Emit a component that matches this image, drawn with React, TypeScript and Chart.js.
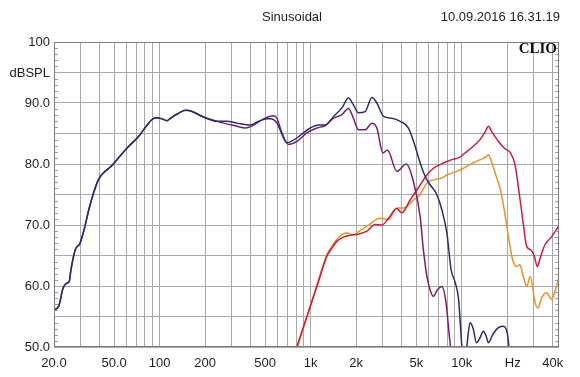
import { useEffect, useRef } from 'react';
import { Chart, registerables } from 'chart.js';

Chart.register(...registerables);

// Shared low-frequency part of the woofer curves (navy + purple)
const bassHz = [20, 21.5, 23, 24.4, 25.2, 25.9, 27.7, 29.6, 31.6, 34, 36.5, 39.3, 42.3, 45.6, 49, 54.2, 62.5, 72.5, 82.7, 89, 95, 103.7, 111.8, 118, 130.7, 148.7, 161, 195];
const bassDb = [56.1, 56.7, 59.7, 60.5, 60.7, 62.7, 66.0, 66.9, 69.2, 72.5, 75.2, 77.4, 78.5, 79.2, 79.9, 81.2, 82.9, 84.5, 86.4, 87.3, 87.6, 87.4, 87.1, 87.5, 88.2, 88.8, 88.7, 87.7];

const navyHz = [239, 279, 325, 398, 452, 513, 540, 598, 661, 697, 769, 896, 993, 1127, 1248, 1417, 1609, 1779, 1918, 2071, 2295, 2541, 2741, 3034, 3446, 3909, 4436, 4912, 5300, 5719, 6166, 6765, 7382, 7964, 8498, 9036, 9506, 10000, 10400, 10900, 11350, 11900, 12500, 13200, 13900, 14500, 15000, 16000, 17300, 18600, 20000, 21000];
const navyDb = [87.0, 87.0, 86.7, 86.4, 87.0, 87.4, 87.4, 86.7, 84.3, 83.5, 83.9, 85.1, 85.9, 86.4, 86.4, 87.8, 89.2, 90.8, 89.7, 88.4, 88.6, 90.9, 90.0, 87.8, 87.5, 87.0, 85.9, 82.9, 80.2, 78.0, 76.6, 75.2, 72.5, 68.7, 62.7, 60.6, 58.0, 50.3, 46, 51, 54.0, 53.0, 50.7, 51.5, 52.6, 51.8, 50.7, 52, 53.1, 53.4, 52.3, 47];

const purpleHz = [265, 325, 369, 408, 488, 568, 598, 645, 713, 811, 944, 1099, 1250, 1417, 1609, 1779, 1918, 2071, 2295, 2541, 2741, 3005, 3222, 3716, 4284, 4790, 5300, 5566, 5874, 6166, 6490, 6900, 7382, 7870, 8280, 8700];
const purpleDb = [86.7, 86.2, 85.9, 86.2, 87.4, 87.9, 87.5, 85.1, 83.2, 83.7, 85.1, 85.9, 86.3, 87.5, 88.1, 89.1, 87.5, 85.6, 85.6, 86.7, 85.9, 81.8, 82.3, 78.8, 80.0, 77.1, 71.4, 66.0, 61.6, 59.4, 58.3, 59.4, 59.9, 57.2, 51.7, 47];

const redHz = [770, 811, 944, 1099, 1280, 1381, 1500, 1609, 1825, 2071, 2355, 2671, 2959, 3274, 3716, 4011, 4551, 5166, 5874, 6490, 7190, 7964, 8800, 9506, 10500, 11900, 13200, 14300, 15000, 15800, 17500, 19300, 20900, 22500, 24000, 25500, 26900, 28700, 30200, 31600, 33300, 35600, 39400, 44200];
const redDb = [48.3, 50.1, 55.0, 59.9, 64.9, 66.2, 67.4, 67.9, 68.3, 68.5, 69.0, 70.1, 70.0, 71.1, 72.7, 72.0, 74.1, 76.1, 78.2, 79.3, 79.9, 80.4, 80.8, 81.0, 81.8, 82.9, 84.0, 85.3, 86.2, 85.3, 83.7, 82.5, 81.9, 79.9, 75.2, 70.3, 66.5, 65.9, 64.9, 63.2, 64.9, 66.8, 68.1, 70.0];

const orangeHz = [780, 820, 950, 1100, 1290, 1381, 1530, 1736, 1918, 2100, 2355, 2884, 3274, 3716, 4113, 4790, 5300, 5874, 6490, 7382, 7964, 8602, 9270, 10260, 11900, 13500, 14600, 15000, 15800, 16900, 18000, 19100, 20500, 21700, 23100, 24200, 25500, 26900, 28400, 30600, 32000, 33700, 36400, 39400, 41300, 44200];
const orangeDb = [48.3, 50.1, 55.2, 60.2, 65.3, 66.5, 68.0, 68.7, 68.4, 69.0, 69.8, 71.1, 70.9, 72.8, 72.8, 74.1, 75.0, 76.9, 77.4, 77.7, 78.2, 78.5, 78.8, 79.3, 80.2, 80.8, 81.2, 81.5, 80.2, 78.0, 75.8, 72.5, 67.6, 64.3, 63.2, 63.5, 61.6, 59.9, 61.6, 57.2, 56.4, 58.0, 58.9, 57.8, 59.1, 61.6];

const xGridValues = [20, 30, 40, 50, 60, 70, 80, 90, 100, 200, 300, 400, 500, 600, 700, 800, 900, 1000, 2000, 3000, 4000, 5000, 6000, 7000, 8000, 9000, 10000, 20000, 30000, 40000];
const xLabelValues = [20, 50, 100, 200, 500, 1000, 2000, 5000, 10000, 20000, 40000];
const xLabelTexts = ['20.0', '50.0', '100', '200', '500', '1k', '2k', '5k', '10k', '   Hz', '40k'];
const yLabelValues = [50, 60, 70, 80, 90, 100];
const yLabelTexts = ['50.0', '60.0', '70.0', '80.0', '90.0', '100'];

const titleText = 'Sinusoidal';
const dateText = '10.09.2016 16.31.19';
const unitText = 'dBSPL';
const brandText = 'CLIO';

const zip = (hz: number[], db: number[]) => hz.map((x, i) => ({ x, y: db[i] }));

const SANS = '"Liberation Sans", Arial, sans-serif';

export default function App() {
  const ref = useRef<HTMLCanvasElement>(null);

  useEffect(() => {
    if (!ref.current) return;
    const frame = {
      id: 'frame',
      afterDraw(chart: any) {
        const { ctx, chartArea: a, scales } = chart;
        ctx.save();
        ctx.lineWidth = 1;
        ctx.strokeStyle = '#9c9c9c';
        ctx.beginPath();
        for (let v = 51; v < 100; v++) {
          if (v % 5 === 0) continue;
          const y = Math.round(scales.y.getPixelForValue(v)) + 0.5;
          ctx.moveTo(a.left, y);
          ctx.lineTo(a.left + 4, y);
          ctx.moveTo(a.right - 4, y);
          ctx.lineTo(a.right, y);
        }
        ctx.stroke();
        ctx.strokeStyle = '#7c7c7c';
        ctx.strokeRect(a.left + 0.5, a.top + 0.5, a.right - a.left - 1, a.bottom - a.top - 1);

        ctx.fillStyle = '#1e1e1e';
        ctx.font = `13px ${SANS}`;
        ctx.textBaseline = 'middle';
        ctx.textAlign = 'center';
        ctx.fillText(titleText, 292, 17);
        ctx.textAlign = 'right';
        ctx.fillText(dateText, 560, 17);
        ctx.fillText(unitText, 50, 73);
        ctx.font = 'bold 15px "Liberation Serif", "Times New Roman", serif';
        ctx.fillStyle = '#111';
        ctx.fillText(brandText, a.right - 2, a.top + 7);
        ctx.restore();
      },
    };

    const ds = (label: string, data: any[], color: string) => ({
      label,
      data,
      borderColor: color,
      backgroundColor: color,
      borderWidth: 1.5,
      pointRadius: 0,
      fill: false,
      cubicInterpolationMode: 'monotone' as const,
    });

    const chart = new Chart(ref.current, {
      type: 'line',
      data: {
        datasets: [
          ds('woofer', zip([...bassHz, ...navyHz], [...bassDb, ...navyDb]), '#2b2e6e'),
          ds('woofer 2', zip([...bassHz, ...purpleHz], [...bassDb, ...purpleDb]), '#7a1d6c'),
          ds('tweeter', zip(redHz, redDb), '#c81e3c'),
          ds('tweeter 2', zip(orangeHz, orangeDb), '#e8922c'),
        ],
      },
      options: {
        responsive: false,
        animation: false,
        layout: { padding: { left: 0, right: 21, top: 42, bottom: 0 } },
        plugins: { legend: { display: false }, tooltip: { enabled: false }, title: { display: false } },
        scales: {
          x: {
            type: 'logarithmic',
            min: 20,
            max: 44000,
            afterBuildTicks: (s: any) => {
              s.ticks = xGridValues.map((v) => ({ value: v }));
            },
            afterFit: (s: any) => {
              s.height = 30;
            },
            grid: { color: '#a9a9a9', lineWidth: 1, drawTicks: false },
            border: { display: false },
            ticks: {
              autoSkip: false,
              maxRotation: 0,
              minRotation: 0,
              padding: 9,
              color: '#1e1e1e',
              font: { family: SANS, size: 13 },
              callback: (v: any) => {
                const i = xLabelValues.indexOf(Number(v));
                return i >= 0 ? xLabelTexts[i] : '';
              },
            },
          },
          y: {
            type: 'linear',
            min: 50,
            max: 100,
            afterFit: (s: any) => {
              s.width = 54;
            },
            grid: { color: '#a9a9a9', lineWidth: 1, drawTicks: false },
            border: { display: false },
            ticks: {
              stepSize: 5,
              padding: 4,
              color: '#1e1e1e',
              font: { family: SANS, size: 13 },
              callback: (v: any) => {
                const i = yLabelValues.indexOf(Number(v));
                return i >= 0 ? yLabelTexts[i] : '';
              },
            },
          },
        },
      },
      plugins: [frame],
    });
    return () => chart.destroy();
  }, []);

  return (
    <div style={{ position: 'absolute', left: 0, top: 0, width: 580, height: 377, background: '#fff' }}>
      <canvas ref={ref} width={580} height={377} style={{ display: 'block' }} />
    </div>
  );
}
